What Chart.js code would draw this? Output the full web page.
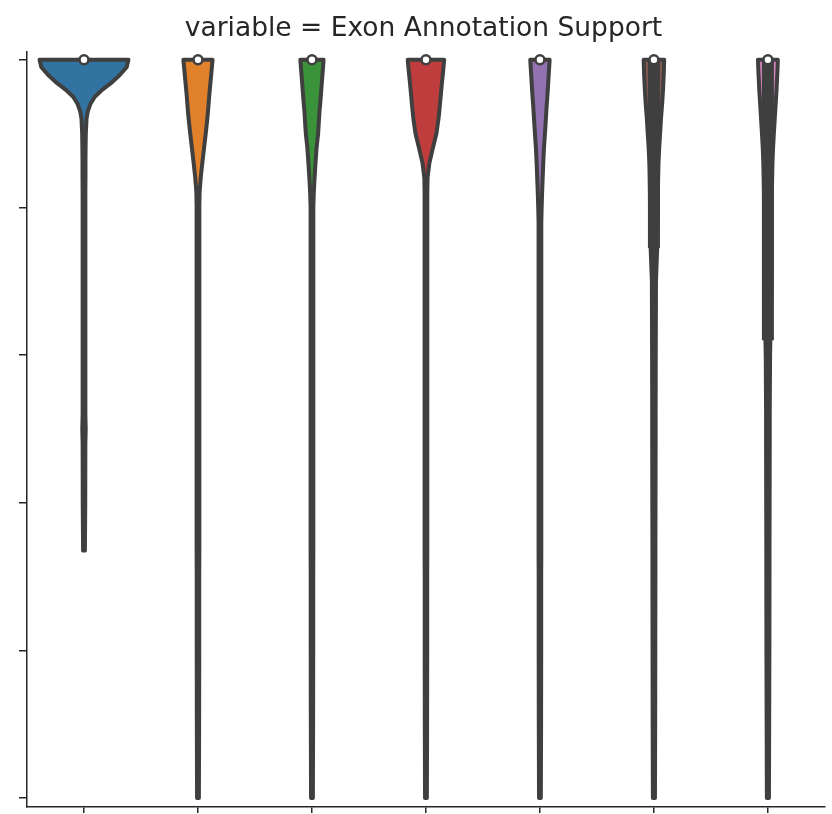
<!DOCTYPE html>
<html>
<head>
<meta charset="utf-8">
<script src="https://cdn.jsdelivr.net/npm/chart.js@4.4.1/dist/chart.umd.min.js"></script>
<style>
  html, body { margin: 0; padding: 0; background: #fff; }
</style>
</head>
<body>
<canvas id="chart" width="832" height="814"></canvas>
<script>
// x tick labels are blank in the original figure
const categories = ['', '', '', '', '', '', ''];
const titleText = 'variable = Exon Annotation Support';
const colors = ['#3274a1', '#e1812c', '#3a923a', '#c03d3e', '#9372b2', '#845b53', '#d684bd'];
const yTicks = [0, 0.2, 0.4, 0.6, 0.8, 1.0];
const yMin = -0.0122, yMax = 1.0108;

// density levels (y values) where the violin half widths were read
const levels = [1.0, 0.99, 0.98, 0.97, 0.96, 0.95, 0.94, 0.93, 0.92, 0.90, 0.88, 0.86, 0.84, 0.82,
  0.80, 0.78, 0.75, 0.70, 0.60, 0.52, 0.50, 0.48, 0.40, 0.335, 0.30, 0.20, 0.10, 0.0];

// half width of each violin at those levels, in category units (null = outside data range)
const blueWidths = [.390, .374, .318, .250, .165, .095, .056, .033, .022, .016, .014, .013, .013, .012,
  .012, .012, .012, .012, .012, .012, .015, .012, .011, .008, null, null, null, null];
const orangeWidths = [.128, .122, .116, .110, .104, .098, .093, .088, .082, .068, .053, .038, .024, .014,
  .012, .012, .012, .012, .012, .012, .012, .012, .012, .012, .011, .011, .010, .008];
const greenWidths = [.102, .097, .092, .087, .082, .077, .072, .066, .062, .054, .040, .031, .023, .016,
  .012, .012, .012, .012, .012, .012, .012, .012, .012, .012, .011, .011, .010, .008];
const redWidths = [.160, .154, .148, .141, .135, .129, .123, .117, .110, .092, .060, .030, .014, .012,
  .012, .012, .012, .012, .012, .012, .012, .012, .012, .012, .011, .011, .010, .008];
const purpleWidths = [.085, .081, .077, .073, .069, .065, .060, .056, .052, .044, .035, .029, .024, .019,
  .015, .012, .012, .012, .012, .012, .012, .012, .012, .012, .011, .011, .010, .008];
const brownWidths = [.090, .088, .086, .083, .080, .076, .072, .067, .062, .054, .046, .040, .037, .035,
  .034, .033, .030, .018, .016, .015, .015, .015, .014, .013, .013, .012, .011, .009];
const pinkWidths = [.087, .085, .082, .079, .076, .072, .068, .064, .060, .052, .045, .040, .037, .035,
  .034, .034, .033, .032, .019, .016, .016, .016, .015, .014, .014, .013, .011, .009];
const halfWidths = [blueWidths, orangeWidths, greenWidths, redWidths, purpleWidths, brownWidths, pinkWidths];

// inner box stats
const medians = [1, 1, 1, 1, 1, 1, 1];
const q1 = [1, 1, 1, 1, 1, 0.745, 0.62];
const q3 = [1, 1, 1, 1, 1, 1, 1];
const whiskerLow = [1, 1, 1, 1, 1, 0.37, 0.05];
const whiskerHigh = [1, 1, 1, 1, 1, 1, 1];

const gray = '#3f3f3f';
const axisColor = '#262626';
const lw = 4;

// draws violin bodies + inner box under the median dots
const violinPlugin = {
  id: 'violins',
  beforeDatasetsDraw(chart) {
    const { ctx, scales: { x, y } } = chart;
    ctx.save();
    ctx.lineJoin = 'round';
    halfWidths.forEach((widths, i) => {
      const left = [], right = [];
      levels.forEach((v, k) => {
        const w = widths[k];
        if (w == null) return;
        left.push([x.getPixelForValue(i - w), y.getPixelForValue(v)]);
        right.push([x.getPixelForValue(i + w), y.getPixelForValue(v)]);
      });
      ctx.beginPath();
      left.forEach(([px, py], n) => n ? ctx.lineTo(px, py) : ctx.moveTo(px, py));
      right.reverse().forEach(([px, py]) => ctx.lineTo(px, py));
      ctx.closePath();
      ctx.fillStyle = colors[i];
      ctx.fill();
      ctx.lineWidth = lw;
      ctx.strokeStyle = gray;
      ctx.stroke();

      const cx = x.getPixelForValue(i);
      ctx.lineCap = 'butt';
      if (whiskerHigh[i] > whiskerLow[i]) {
        ctx.beginPath();
        ctx.moveTo(cx, y.getPixelForValue(whiskerLow[i]));
        ctx.lineTo(cx, y.getPixelForValue(whiskerHigh[i]));
        ctx.lineWidth = lw;
        ctx.stroke();
      }
      if (q3[i] > q1[i]) {
        ctx.beginPath();
        ctx.moveTo(cx, y.getPixelForValue(q1[i]));
        ctx.lineTo(cx, y.getPixelForValue(q3[i]));
        ctx.lineWidth = 12;
        ctx.stroke();
      }
    });
    ctx.restore();
  }
};

const medianPoints = medians.map((m, i) => ({ x: i, y: m }));

new Chart(document.getElementById('chart'), {
  type: 'scatter',
  data: {
    datasets: [{
      data: medianPoints,
      pointRadius: 4.5,
      pointBackgroundColor: '#ffffff',
      pointBorderColor: gray,
      pointBorderWidth: 2.6,
      clip: false
    }]
  },
  options: {
    responsive: false,
    animation: false,
    layout: { padding: { left: 19, right: 4, top: 0, bottom: 0 } },
    plugins: {
      legend: { display: false },
      tooltip: { enabled: false },
      title: {
        display: true,
        text: titleText,
        color: axisColor,
        font: { family: 'DejaVu Sans', size: 26.5, weight: 'normal' },
        padding: { top: 13, bottom: 7 }
      }
    },
    scales: {
      x: {
        type: 'linear',
        min: -0.5,
        max: 6.5,
        afterBuildTicks: s => { s.ticks = categories.map((_, i) => ({ value: i })); },
        ticks: { display: false },
        grid: { drawOnChartArea: false, tickLength: 6, color: axisColor, lineWidth: 1.5 },
        border: { color: axisColor, width: 1.5 }
      },
      y: {
        type: 'linear',
        min: yMin,
        max: yMax,
        afterBuildTicks: s => { s.ticks = yTicks.map(v => ({ value: v })); },
        ticks: { display: false },
        grid: { drawOnChartArea: false, tickLength: 8, color: axisColor, lineWidth: 1.5 },
        border: { color: axisColor, width: 1.5 }
      }
    }
  },
  plugins: [violinPlugin]
});
</script>
</body>
</html>
